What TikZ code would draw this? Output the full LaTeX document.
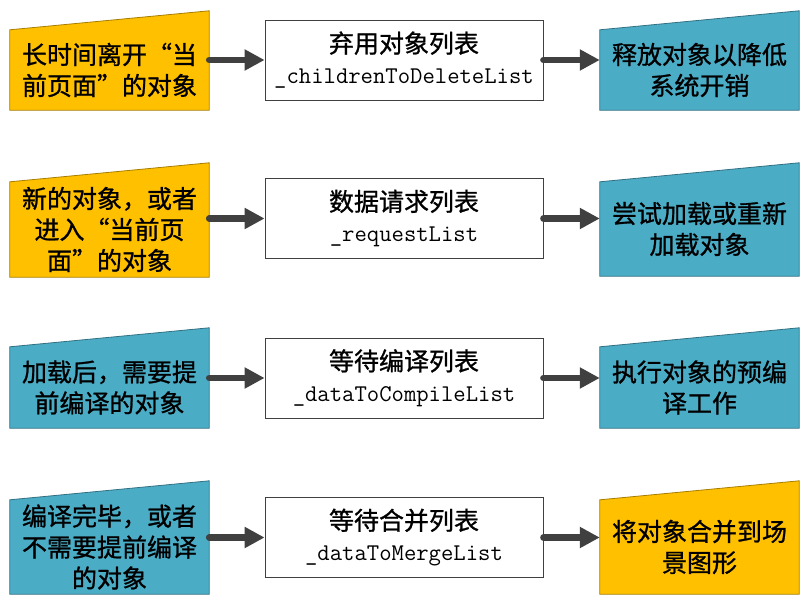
\documentclass[tikz,border=0pt]{standalone}
\usepackage{fontspec}
\newfontfamily\cjk[FakeBold=1]{Noto Sans CJK SC}
\usetikzlibrary{arrows.meta}
\usetikzlibrary{backgrounds}
\definecolor{boxorange}{RGB}{255,192,0}
\definecolor{boxblue}{RGB}{75,172,198}
\definecolor{arrowgray}{RGB}{64,64,64}

\begin{document}
\begin{tikzpicture}[x=1pt,y=-1pt,
  font=\cjk\fontsize{25}{31}\selectfont,
  stage/.style={rectangle,minimum width=199pt,inner sep=0pt,align=center},
  list/.style={rectangle,draw=black!75,line width=0.8pt,minimum width=278pt,minimum height=80pt,inner sep=0pt,align=center},
  flow/.style={-{Triangle[length=20pt,width=20pt]},line width=6.5pt,line cap=round,draw=arrowgray}]
\useasboundingbox (0,0) rectangle (809,601);
% row 1
\node at (109.5, 70) (L1) [stage,minimum height=80pt] {长时间离开“当\\前页面”的对象};
\node at (404, 60) (M1) [list] {弃用对象列表\\{\ttfamily\fontsize{24}{31}\selectfont\_childrenToDeleteList}};
\node at (699.5, 70) (R1) [stage,minimum height=80pt] {释放对象以降低\\系统开销};
% row 2
\node at (109.5, 229.5) (L2) [stage,minimum height=95pt] {新的对象，或者\\进入“当前页\\面”的对象};
\node at (404, 218.5) (M2) [list] {数据请求列表\\{\ttfamily\fontsize{24}{31}\selectfont\_requestList}};
\node at (699.5, 229) (R2) [stage,minimum height=94pt] {尝试加载或重新\\加载对象};
% row 3
\node at (109.5, 387.5) (L3) [stage,minimum height=81pt] {加载后，需要提\\前编译的对象};
\node at (404, 378) (M3) [list] {等待编译列表\\{\ttfamily\fontsize{24}{31}\selectfont\_dataToCompileList}};
\node at (699.5, 387.5) (R3) [stage,minimum height=81pt] {执行对象的预编\\译工作};
% row 4
\node at (109.5, 547) (L4) [stage,minimum height=94pt] {编译完毕，或者\\不需要提前编译\\的对象};
\node at (404, 537.5) (M4) [list] {等待合并列表\\{\ttfamily\fontsize{24}{31}\selectfont\_dataToMergeList}};
\node at (699.5, 547) (R4) [stage,minimum height=94pt] {将对象合并到场\\景图形};
% slanted boxes behind the text
\begin{scope}[on background layer]
\foreach \n/\c in {L1/boxorange, R1/boxblue, L2/boxorange, R2/boxblue,
                   L3/boxblue, R3/boxblue, L4/boxblue, R4/boxorange}
  \filldraw [fill=\c, draw=\c!65!black, line width=0.8pt]
    (\n.south west) -- (\n.south east) -- ([yshift=19pt]\n.north east) -- (\n.north west) -- cycle;
\end{scope}
% arrows
\foreach \i in {1,2,3,4} {
  \draw [flow] (L\i.east |- M\i.west) -- (M\i.west);
  \draw [flow] (M\i.east) -- (M\i.east -| R\i.west);
}
\end{tikzpicture}
\end{document}
